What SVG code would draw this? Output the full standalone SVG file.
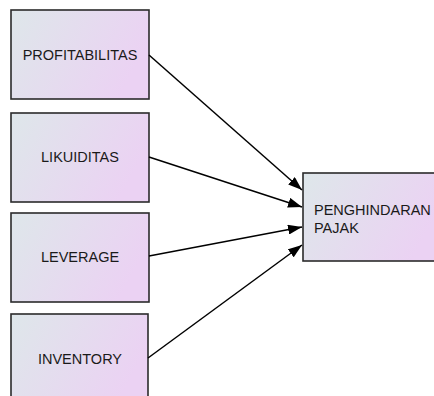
<svg xmlns="http://www.w3.org/2000/svg" width="434" height="396" viewBox="0 0 434 396">
  <defs>
    <linearGradient id="boxFill" x1="0" y1="0" x2="1" y2="0.35">
      <stop offset="0" stop-color="#dee7ea"/>
      <stop offset="1" stop-color="#ebd2f3"/>
    </linearGradient>
    <marker id="arrow" viewBox="0 0 14 10" refX="14" refY="5" markerWidth="14" markerHeight="10" markerUnits="userSpaceOnUse" orient="auto">
      <path d="M0,0 L14,5 L0,10 Z" fill="#000"/>
    </marker>
  </defs>
  <style>
    .box { fill: url(#boxFill); stroke: #2b2b2b; stroke-width: 1.6; }
    .label { font-family: "Liberation Sans", Arial, sans-serif; font-size: 14.5px; fill: #1a1a1a; }
    .edge { stroke: #000; stroke-width: 1.5; fill: none; marker-end: url(#arrow); }
  </style>
  <rect width="434" height="396" fill="#fff"/>

  <g id="profitabilitas">
    <rect class="box" x="11" y="10" width="138" height="89"/>
    <text class="label" x="80" y="60" text-anchor="middle">PROFITABILITAS</text>
  </g>
  <g id="likuiditas">
    <rect class="box" x="11" y="113" width="138" height="89"/>
    <text class="label" x="80" y="162" text-anchor="middle">LIKUIDITAS</text>
  </g>
  <g id="leverage">
    <rect class="box" x="11" y="213" width="138" height="89"/>
    <text class="label" x="80" y="262" text-anchor="middle">LEVERAGE</text>
  </g>
  <g id="inventory">
    <rect class="box" x="11" y="314" width="137" height="90"/>
    <text class="label" x="80" y="364" text-anchor="middle">INVENTORY</text>
  </g>
  <g id="penghindaran-pajak">
    <rect class="box" x="303" y="173" width="140" height="88"/>
    <text class="label" x="314" y="215">PENGHINDARAN</text>
    <text class="label" x="314" y="232.5">PAJAK</text>
  </g>

  <g id="connectors">
    <line class="edge" x1="149" y1="55" x2="302" y2="190"/>
    <line class="edge" x1="149" y1="157" x2="302" y2="207"/>
    <line class="edge" x1="149" y1="256" x2="302" y2="227"/>
    <line class="edge" x1="148" y1="358" x2="302" y2="245"/>
  </g>
</svg>
